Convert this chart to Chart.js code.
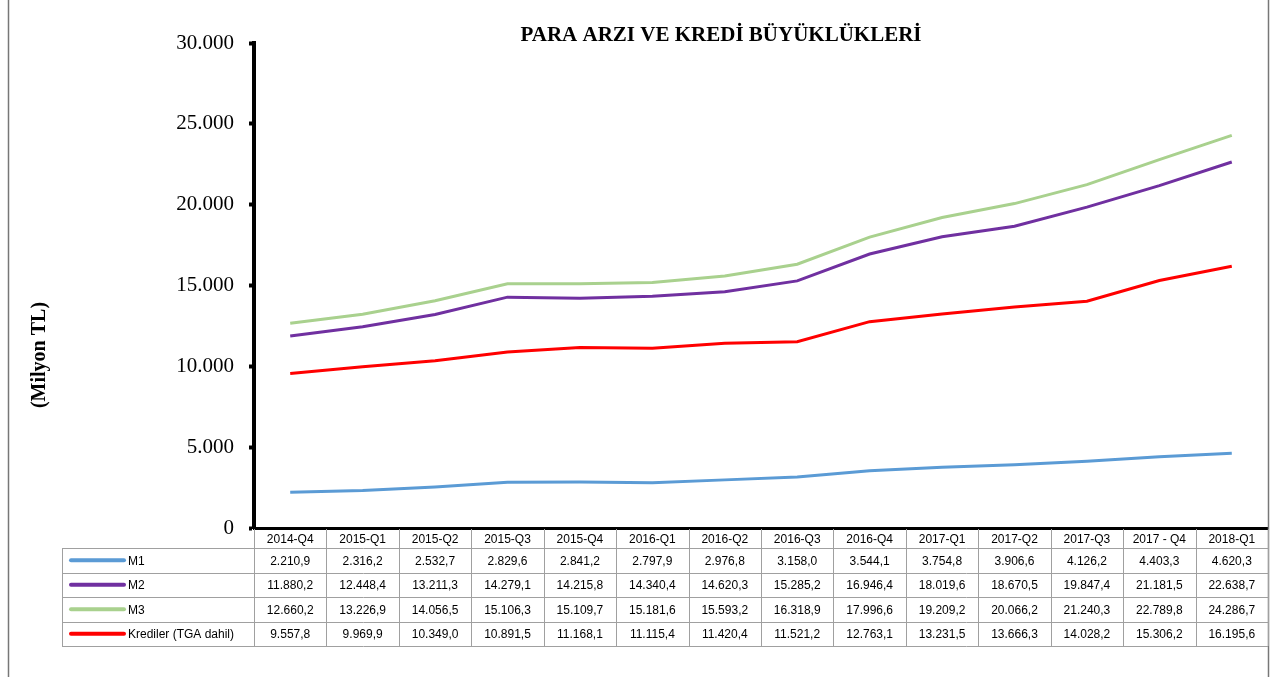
<!DOCTYPE html>
<html>
<head>
<meta charset="utf-8">
<script src="https://cdn.jsdelivr.net/npm/chart.js@4.4.1/dist/chart.umd.min.js"></script>
<style>
html,body{margin:0;padding:0;background:#fff;}
#wrap{position:relative;width:1275px;height:677px;}
</style>
</head>
<body>
<div id="wrap"><canvas id="c" width="1275" height="677"></canvas></div>
<script>
const categories = ["2014-Q4","2015-Q1","2015-Q2","2015-Q3","2015-Q4","2016-Q1","2016-Q2","2016-Q3","2016-Q4","2017-Q1","2017-Q2","2017-Q3","2017 - Q4","2018-Q1"];
const m1 = [2210.9,2316.2,2532.7,2829.6,2841.2,2797.9,2976.8,3158.0,3544.1,3754.8,3906.6,4126.2,4403.3,4620.3];
const m2 = [11880.2,12448.4,13211.3,14279.1,14215.8,14340.4,14620.3,15285.2,16946.4,18019.6,18670.5,19847.4,21181.5,22638.7];
const m3 = [12660.2,13226.9,14056.5,15106.3,15109.7,15181.6,15593.2,16318.9,17996.6,19209.2,20066.2,21240.3,22789.8,24286.7];
const krediler = [9557.8,9969.9,10349.0,10891.5,11168.1,11115.4,11420.4,11521.2,12763.1,13231.5,13666.3,14028.2,15306.2,16195.6];
const seriesNames = ["M1","M2","M3","Krediler (TGA dahil)"];
const seriesColors = ["#5B9BD5","#7030A0","#A9D18E","#FF0000"];
const chartTitle = "PARA ARZI VE KREDİ BÜYÜKLÜKLERİ";
const yTitle = "(Milyon TL)";

function thousands(intStr){ return intStr.replace(/\B(?=(\d{3})+(?!\d))/g, "."); }
function fmtTick(v){ return thousands(String(Math.round(v))); }
function fmtVal(v){ const s = v.toFixed(1).split("."); return thousands(s[0]) + "," + s[1]; }

const allSeries = [m1, m2, m3, krediler];

const tablePlugin = {
  id: "tablePlugin",
  afterDraw(chart){
    const ctx = chart.ctx;
    const xs = chart.scales.x;
    const area = chart.chartArea;
    const n = categories.length;
    const colW = xs.getPixelForValue(1) - xs.getPixelForValue(0);
    const left = xs.getPixelForValue(0) - colW/2;
    const right = left + colW*n;
    const legendLeft = 62;
    const top = area.bottom + 1;
    const headerH = 19;
    const rowH = 24.5;
    const bottom = top + headerH + rowH*allSeries.length;
    ctx.save();
    // frame
    ctx.strokeStyle = "#777";
    ctx.lineWidth = 1.5;
    ctx.beginPath();
    ctx.moveTo(8.5, 0); ctx.lineTo(8.5, 677);
    ctx.moveTo(1268.5, 0); ctx.lineTo(1268.5, 677);
    ctx.stroke();
    // grid lines
    ctx.strokeStyle = "#a0a0a0";
    ctx.lineWidth = 1;
    ctx.beginPath();
    for(let i=0;i<=n;i++){
      const x = Math.round(left + colW*i) + 0.5;
      ctx.moveTo(x, top); ctx.lineTo(x, bottom);
    }
    ctx.moveTo(legendLeft+0.5, top+headerH); ctx.lineTo(legendLeft+0.5, bottom);
    for(let r=0;r<=allSeries.length;r++){
      const y = Math.round(top + headerH + rowH*r) + 0.5;
      ctx.moveTo(legendLeft, y); ctx.lineTo(right, y);
    }
    ctx.stroke();
    // text
    ctx.fillStyle = "#000";
    ctx.font = "12px 'Liberation Sans', Arial, sans-serif";
    ctx.textAlign = "center";
    ctx.textBaseline = "middle";
    for(let i=0;i<n;i++){
      const cx = xs.getPixelForValue(i);
      ctx.fillText(categories[i], cx, top + headerH/2 + 1);
      for(let r=0;r<allSeries.length;r++){
        ctx.fillText(fmtVal(allSeries[r][i]), cx, top + headerH + rowH*r + rowH/2 + 1);
      }
    }
    // legend keys
    ctx.textAlign = "left";
    for(let r=0;r<allSeries.length;r++){
      const cy = top + headerH + rowH*r + rowH/2;
      ctx.strokeStyle = seriesColors[r];
      ctx.lineWidth = 4;
      ctx.lineCap = "round";
      ctx.beginPath(); ctx.moveTo(71, cy); ctx.lineTo(124, cy); ctx.stroke();
      ctx.fillText(seriesNames[r], 128, cy + 1);
    }
    // title
    ctx.font = "bold 21px 'Liberation Serif', 'Times New Roman', serif";
    ctx.textAlign = "center";
    ctx.fillText(chartTitle, 721, 36);
    // y axis title
    ctx.font = "bold 20px 'Liberation Serif', 'Times New Roman', serif";
    ctx.save();
    ctx.translate(40, 355);
    ctx.rotate(-Math.PI/2);
    ctx.fillText(yTitle, 0, 0);
    ctx.restore();
    ctx.restore();
  }
};

new Chart(document.getElementById("c"), {
  type: "line",
  data: {
    labels: categories,
    datasets: allSeries.map((d, i) => ({
      label: seriesNames[i],
      data: d,
      borderColor: seriesColors[i],
      backgroundColor: seriesColors[i],
      borderWidth: 3,
      pointRadius: 0,
      tension: 0,
      fill: false
    }))
  },
  options: {
    responsive: false,
    animation: false,
    devicePixelRatio: 1,
    layout: { padding: { left: 24, right: 7, top: 43, bottom: 149 } },
    plugins: { legend: { display: false }, title: { display: false }, tooltip: { enabled: false } },
    scales: {
      x: {
        offset: true,
        ticks: { display: false },
        grid: { display: false, drawTicks: false },
        border: { display: true, color: "#000", width: 3 },
        afterFit(s){ s.height = 0; }
      },
      y: {
        min: 0, max: 30000,
        ticks: {
          stepSize: 5000,
          color: "#000",
          padding: 15,
          font: { family: "'Liberation Serif', 'Times New Roman', serif", size: 21 },
          callback: (v) => fmtTick(v)
        },
        grid: { drawOnChartArea: false, drawTicks: true, tickLength: 5, tickWidth: 4, tickColor: "#000" },
        border: { display: true, color: "#000", width: 4 },
        afterFit(s){ s.width = 254 - 24; }
      }
    }
  },
  plugins: [tablePlugin]
});
</script>
</body>
</html>
